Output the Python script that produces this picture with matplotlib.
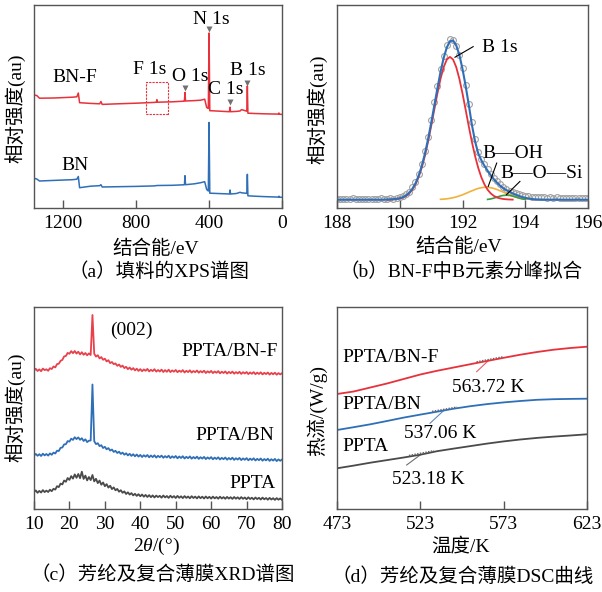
import numpy as np
import matplotlib
matplotlib.use("Agg")
import matplotlib.pyplot as plt
from matplotlib.patches import Rectangle

plt.rcParams["font.family"] = ["Liberation Serif", "Noto Sans CJK SC"]
plt.rcParams["font.size"] = 14
plt.rcParams["mathtext.fontset"] = "custom"
plt.rcParams["mathtext.rm"] = "Liberation Serif"
plt.rcParams["mathtext.it"] = "Liberation Serif:italic"
plt.rcParams["axes.unicode_minus"] = False

RED = "#e8313a"
BLUE = "#2f6fb8"
GRAY = "#4a4a4a"
SPINE = "#555555"

# ---------------- (a) XPS survey ----------------
xps_ev = [1360, 1345, 1330, 1250, 1150, 1125, 1117, 1110, 1050, 1000, 993, 986, 900, 800,
          700, 689, 686, 683, 600, 540, 535, 532, 529, 480, 446, 424, 413, 404, 400, 396,
          380, 300, 288, 285, 282, 250, 230, 222, 200, 193, 190, 187, 150, 100, 50, 20,
          17, 14, 0]
xps_bnf = [114.0, 113.5, 110.8, 111.0, 111.8, 112.2, 116.0, 106.3, 105.6, 105.2, 107.5, 104.6,
           105.2, 105.8, 106.6, 106.8, 109.3, 106.8, 107.2, 107.8, 108.0, 116.5, 108.0, 108.4,
           108.8, 109.8, 101.5, 100.5, 176.0, 98.3, 98.2, 97.4, 97.3, 101.8, 97.3, 97.6, 98.0,
           99.4, 98.2, 97.8, 123.0, 95.8, 95.5, 95.2, 95.0, 94.9, 96.0, 94.8, 94.6]
xps_bn = [30.7, 30.0, 28.0, 28.6, 29.3, 29.8, 32.5, 21.3, 22.8, 23.3, 24.3, 22.0, 22.3, 22.6,
          23.1, 23.4, 23.5, 23.5, 23.7, 24.2, 24.3, 33.3, 24.3, 25.2, 26.3, 27.3, 19.5, 18.0,
          86.5, 15.8, 15.7, 15.1, 15.0, 19.0, 15.0, 15.5, 16.7, 16.2, 15.8, 15.6, 34.7, 13.2,
          12.8, 12.4, 12.1, 11.9, 12.8, 11.8, 11.7]
xps_peak_names = ["N 1s", "O 1s", "C 1s", "B 1s"]
xps_peak_ev = [400, 532, 286, 190]

# ---------------- (b) B 1s high-resolution ----------------
b1s_ev = np.round(np.arange(188.0, 196.05, 0.1), 1)
b1s_raw = [0.8, 1.2, 0.6, 1.0, 0.7, 1.3, 0.9, 0.5, 1.1, 0.8,
           1.2, 0.6, 1.0, 0.9, 1.3, 0.8, 1.1, 1.4, 1.2, 1.9,
           2.6, 4.0, 5.9, 8.2, 12.3, 17.9, 25.6, 35.8, 48.3, 63.2,
           79.9, 97.6, 114.3, 130.8, 144.2, 154.6, 160.7, 160.2, 154.3, 145.1,
           131.6, 114.8, 96.2, 77.4, 60.6, 47.6, 41.2, 35.8, 30.6, 26.1,
           22.0, 18.5, 15.4, 12.9, 10.8, 9.2, 7.6, 6.3, 5.4, 4.5,
           3.8, 3.4, 3.0, 2.6, 2.7, 2.3, 2.5, 2.1, 2.4, 2.0,
           2.3, 1.9, 2.2, 1.8, 2.1, 1.7, 2.0, 1.8, 2.1, 1.7, 1.9]
b1s_envelope = [0.0] * 15 + [
    0.1, 0.15, 0.3, 0.5, 0.9, 1.5, 2.5, 4.2, 6.9, 10.8,
    16.3, 23.8, 33.6, 45.8, 60.3, 76.6, 94.0, 111.5, 128.0, 142.0,
    152.5, 158.8, 159.5, 154.5, 145.0, 131.0, 114.0, 95.0, 75.0, 58.5,
    46.5, 39.5, 34.0, 29.0, 24.5, 20.5, 17.0, 14.0, 11.5, 9.5,
    8.0, 6.3, 5.0, 3.8, 2.7, 1.9, 1.2, 0.7, 0.4, 0.2, 0.1] + [0.0] * 15

bn_ev = np.round(np.arange(189.6, 193.65, 0.1), 1)
bn_comp = [0.1, 0.2, 0.4, 0.7, 1.3, 2.2, 3.8, 6.3, 10.0, 15.3,
           22.5, 32.0, 43.8, 57.8, 73.5, 90.1, 106.4, 121.1, 132.8, 140.4,
           143.0, 140.4, 132.8, 121.1, 106.4, 90.1, 73.5, 57.8, 43.8, 32.0,
           22.5, 15.3, 10.0, 6.3, 3.8, 2.2, 1.3, 0.7, 0.4, 0.2, 0.1]
boh_ev = np.round(np.arange(191.3, 194.25, 0.1), 1)
boh_comp = [0.4, 0.6, 0.9, 1.4, 2.0, 2.8, 3.8, 4.9, 6.2, 7.6,
            8.9, 10.2, 11.3, 12.0, 12.45, 12.45, 12.0, 11.3, 10.2, 8.9,
            7.6, 6.2, 4.9, 3.8, 2.8, 2.0, 1.4, 0.9, 0.6, 0.4]
bosi_ev = np.round(np.arange(192.8, 194.05, 0.1), 1)
bosi_comp = [0.3, 0.8, 1.6, 2.6, 3.6, 4.3, 4.5, 4.3, 3.6, 2.6, 1.6, 0.8, 0.3]

# ---------------- (c) XRD ----------------
two_theta = np.round(np.arange(10.0, 80.25, 0.5), 1)
xrd_bnf = [138.5, 140.2, 138.0, 139.6, 137.8, 140.4, 138.9, 139.7, 138.2, 140.8,
           140.0, 142.5, 141.6, 144.9, 145.3, 148.2, 149.1, 152.6, 153.0, 156.1,
           155.2, 157.9, 155.8, 158.0, 155.4, 157.3, 154.6, 156.8, 154.2, 156.0,
           153.7, 155.6, 154.0, 194.0, 155.2, 152.4, 153.8, 150.6, 151.9, 149.2,
           150.3, 147.6, 148.8, 145.9, 147.0, 144.8, 145.6, 143.2, 144.5, 142.1,
           143.4, 140.9, 142.2, 139.8, 141.5, 139.3, 140.9, 138.6, 140.3, 138.1,
           139.9, 137.8, 139.6, 138.2, 140.1, 137.6, 139.2, 137.9, 139.8, 137.4,
           139.0, 137.5, 139.4, 137.0, 138.9, 137.2, 139.3, 136.9, 138.6, 137.3,
           139.0, 136.8, 138.4, 137.1, 138.9, 136.5, 138.2, 136.9, 138.7, 136.4,
           138.0, 136.8, 138.5, 136.3, 137.9, 136.6, 138.3, 136.0, 137.7, 136.4,
           138.1, 135.9, 137.5, 136.2, 137.9, 135.7, 137.3, 136.0, 137.6, 135.4,
           137.1, 135.8, 137.4, 135.3, 136.9, 135.6, 137.2, 135.1, 136.8, 135.5,
           137.0, 134.9, 136.6, 135.2, 136.9, 134.8, 136.4, 135.0, 136.7, 134.6,
           136.2, 134.9, 136.5, 134.4, 136.1, 134.7, 136.3, 134.3, 135.9, 134.6, 135.8]
xrd_bn = [53.5, 55.1, 53.2, 54.8, 53.0, 55.3, 53.6, 55.0, 53.4, 55.6,
          54.2, 56.4, 55.5, 58.3, 58.0, 61.2, 61.5, 64.6, 64.8, 67.9,
          67.4, 70.3, 69.1, 71.8, 69.9, 71.6, 69.2, 70.8, 68.0, 69.7,
          66.9, 68.3, 68.5, 124.5, 67.8, 64.9, 65.8, 62.9, 63.8, 61.0,
          62.2, 59.7, 60.9, 58.4, 59.5, 57.1, 58.2, 56.0, 57.3, 55.1,
          56.4, 54.3, 55.7, 53.6, 55.2, 53.1, 54.8, 52.7, 54.5, 52.4,
          54.1, 52.0, 53.8, 52.3, 54.0, 51.7, 53.5, 51.9, 53.7, 51.4,
          53.2, 51.8, 53.4, 51.2, 52.9, 51.5, 53.3, 50.9, 52.7, 51.3,
          53.0, 50.7, 52.5, 51.0, 52.8, 50.5, 52.2, 50.8, 52.6, 50.3,
          52.0, 50.6, 52.4, 50.1, 51.8, 50.4, 52.1, 49.9, 51.6, 50.2,
          51.9, 49.7, 51.4, 50.0, 51.7, 49.5, 51.2, 49.8, 51.5, 49.3,
          51.0, 49.6, 51.3, 49.1, 50.8, 49.4, 51.1, 48.9, 50.6, 49.2,
          50.9, 48.7, 50.4, 49.0, 50.7, 48.5, 50.2, 48.8, 50.5, 48.3,
          50.0, 48.6, 50.3, 48.1, 49.8, 48.4, 50.1, 47.9, 49.6, 48.2, 49.5]
xrd_ppta = [16.8, 18.6, 16.2, 18.1, 16.5, 18.9, 16.9, 18.4, 17.0, 19.3,
            17.8, 20.2, 19.4, 22.8, 21.9, 25.4, 24.6, 28.5, 27.2, 31.0,
            29.1, 32.9, 30.4, 34.6, 31.2, 35.0, 30.8, 37.3, 30.1, 33.4,
            28.6, 32.0, 28.9, 34.0, 27.6, 30.2, 25.9, 28.4, 24.3, 26.5,
            22.8, 24.9, 21.4, 23.3, 19.9, 21.6, 18.7, 20.1, 17.3, 18.8,
            16.2, 17.6, 15.0, 16.7, 14.4, 15.9, 13.6, 15.2, 13.1, 14.8,
            12.7, 14.5, 12.3, 14.1, 12.0, 13.9, 11.8, 13.6, 11.5, 13.4,
            11.9, 13.2, 11.3, 13.5, 11.6, 13.0, 11.1, 13.3, 11.4, 12.9,
            11.0, 13.1, 11.2, 12.7, 10.9, 12.9, 11.1, 12.5, 10.7, 12.8,
            11.0, 12.4, 10.6, 12.6, 10.8, 12.3, 10.5, 12.5, 10.7, 12.2,
            10.4, 12.4, 10.6, 12.0, 10.3, 12.3, 10.5, 11.9, 10.2, 12.1,
            10.4, 11.8, 10.1, 12.0, 10.3, 11.7, 10.0, 11.9, 10.2, 11.5,
            9.8, 11.7, 10.0, 11.3, 9.6, 11.5, 9.9, 11.2, 9.5, 11.4,
            9.7, 11.0, 9.3, 11.1, 9.5, 10.8, 9.1, 10.9, 9.3, 10.6, 9.0]

# ---------------- (d) DSC ----------------
dsc_T = [473, 483, 493, 503, 513, 523, 533, 543, 553, 563, 573, 583, 593, 603, 613, 623]
dsc_bnf = [115.0, 117.5, 121.5, 125.5, 130.0, 134.5, 138.2, 141.5, 144.8, 148.0,
           151.2, 154.3, 157.0, 159.3, 161.0, 162.3]
dsc_bn = [79.0, 81.8, 84.7, 88.0, 91.4, 94.4, 97.3, 100.3, 102.8, 104.9,
          106.6, 108.0, 109.2, 109.8, 110.1, 110.3]
dsc_ppta = [40.7, 43.4, 46.3, 48.9, 51.5, 54.3, 57.8, 60.4, 62.9, 65.4,
            67.6, 69.5, 71.1, 72.4, 73.5, 74.7]
tg_values = [563.72, 537.06, 523.18]

W, H = 602, 592
fig = plt.figure(figsize=(W / 100, H / 100), dpi=100)


def add_axes_px(left, top, right, bottom):
    return fig.add_axes([left / W, 1 - bottom / H, (right - left) / W, (bottom - top) / H])


def style(ax):
    for s in ax.spines.values():
        s.set_color(SPINE)
        s.set_linewidth(1.0)
    ax.tick_params(axis="x", direction="in", length=6, width=1.0, color=SPINE,
                   pad=5, labelsize=14, top=False)
    ax.tick_params(axis="y", left=False, right=False, labelleft=False)


def ftext(px, py, s, **kw):
    fig.text(px / W, 1 - py / H, s, ha="center", va="center", fontsize=14, **kw)


# (a)
ax = add_axes_px(34, 5, 282, 208)
style(ax)
ax.plot(xps_ev, xps_bnf, color=RED, lw=1.1)
ax.plot(xps_ev, xps_bn, color=BLUE, lw=1.1)
ax.set_xlim(1360, 0)
ax.set_ylim(1, 204)
ax.set_xticks([1200, 800, 400, 0])
marker_y = [179.5, 121.3, 106.5, 125.5]
for ev, my in zip(xps_peak_ev, marker_y):
    ax.plot(ev, my, marker="v", color="#707070", ms=4.5, mec="none")
ax.text(389, 189, "N 1s", ha="center", va="center")
ax.text(504, 132, "O 1s", ha="center", va="center")
ax.text(307, 119, "C 1s", ha="center", va="center")
ax.text(186, 138, "B 1s", ha="center", va="center")
ax.text(723, 139, "F 1s", ha="center", va="center")
ax.add_patch(Rectangle((625, 95), 120, 32, fill=False, ec=RED, lw=0.8, ls=(0, (2, 1))))
ax.text(1134, 131, "BN-F", ha="center", va="center")
ax.text(1134, 43, "BN", ha="center", va="center")
ftext(156, 248.7, "结合能/eV")
ftext(159, 272, "（a）填料的XPS谱图")
ftext(15, 108, "相对强度(au)", rotation=90)

# (b)
ax = add_axes_px(337, 5, 588, 208)
style(ax)
ax.plot(b1s_ev, b1s_raw, ls="none", marker="o", ms=4.2, mfc="none", mec="#a0a0a0", mew=0.8)
ax.plot(boh_ev, boh_comp, color="#f2b13a", lw=1.2)
ax.plot(bosi_ev, bosi_comp, color="#3f9a45", lw=1.2)
ax.plot(bn_ev, bn_comp, color=RED, lw=1.3)
ax.plot(b1s_ev, b1s_envelope, color=BLUE, lw=1.5)
ax.set_xlim(188, 196)
ax.set_ylim(-8.3, 195)
ax.set_xticks([188, 190, 192, 194, 196])
ax.plot([192.34, 191.76], [153.3, 142.7], color="black", lw=0.8)
ax.text(192.62, 152, "B 1s", ha="left", va="center")
ax.plot([193.09, 192.82], [36.7, 13.3], color="black", lw=0.8)
ax.text(192.64, 46, "B—OH", ha="left", va="center")
ax.plot([193.83, 193.4], [18.3, 5.0], color="black", lw=0.8)
ax.text(193.22, 26, "B—O—Si", ha="left", va="center")
ftext(459, 247, "结合能/eV")
ftext(461.5, 272, "（b）BN-F中B元素分峰拟合")
ftext(316.7, 109, "相对强度(au)", rotation=90)

# (c)
ax = add_axes_px(34, 307, 282, 509)
style(ax)
ax.plot(two_theta, xrd_bnf, color="#e8414b", lw=1.3)
ax.plot(two_theta, xrd_bn, color=BLUE, lw=1.3)
ax.plot(two_theta, xrd_ppta, color=GRAY, lw=1.3)
ax.set_xlim(10, 80)
ax.set_ylim(0, 202)
ax.set_xticks(range(10, 81, 10))
ax.text(37.4, 179, "(002)", ha="center", va="center")
ax.text(78.9, 157.3, "PPTA/BN-F", ha="right", va="center")
ax.text(77.7, 73, "PPTA/BN", ha="right", va="center")
ax.text(78.3, 26, "PPTA", ha="right", va="center")
ftext(156.7, 546.7, r"$\mathit{2}\theta$/(°)")
ftext(162.5, 575, "（c）芳纶及复合薄膜XRD谱图")
ftext(15, 407, "相对强度(au)", rotation=90)

# (d)
ax = add_axes_px(337, 307, 587, 509)
style(ax)
curves = [(dsc_bnf, RED), (dsc_bn, BLUE), (dsc_ppta, GRAY)]
for ys, c in curves:
    ax.plot(dsc_T, ys, color=c, lw=1.3)
ax.set_xlim(473, 623)
ax.set_ylim(0, 202)
ax.set_xticks([473, 523, 573, 623])
leader_start = [(556.8, 137.3), (528.8, 85.7), (514.8, 44.0)]
tangent_span = [(-7, 9), (-7, 8), (-7, 8)]
for (ys, c), tg, (sx, sy), (d0, d1) in zip(curves, tg_values, leader_start, tangent_span):
    ty = np.interp(tg, dsc_T, ys)
    t0, t1 = tg + d0, tg + d1
    ax.plot([t0, t1], [np.interp(t0, dsc_T, ys) + 1.2, np.interp(t1, dsc_T, ys) + 1.2],
            color="#666666", lw=1.0, ls=(0, (1, 1)))
    ax.plot([sx, tg], [sy, ty], color=c, lw=0.8, alpha=0.8)
ax.text(476, 151, "PPTA/BN-F", ha="left", va="center")
ax.text(542, 121, f"{tg_values[0]:.2f} K", ha="left", va="center")
ax.text(476, 104, "PPTA/BN", ha="left", va="center")
ax.text(513.2, 75, f"{tg_values[1]:.2f} K", ha="left", va="center")
ax.text(476, 62, "PPTA", ha="left", va="center")
ax.text(506, 29, f"{tg_values[2]:.2f} K", ha="left", va="center")
ftext(460, 546.7, "温度/K")
ftext(463, 577, "（d）芳纶及复合薄膜DSC曲线")
ftext(316.7, 410, "热流/(W/g)", rotation=90)

fig.savefig("out.png", dpi=100)
